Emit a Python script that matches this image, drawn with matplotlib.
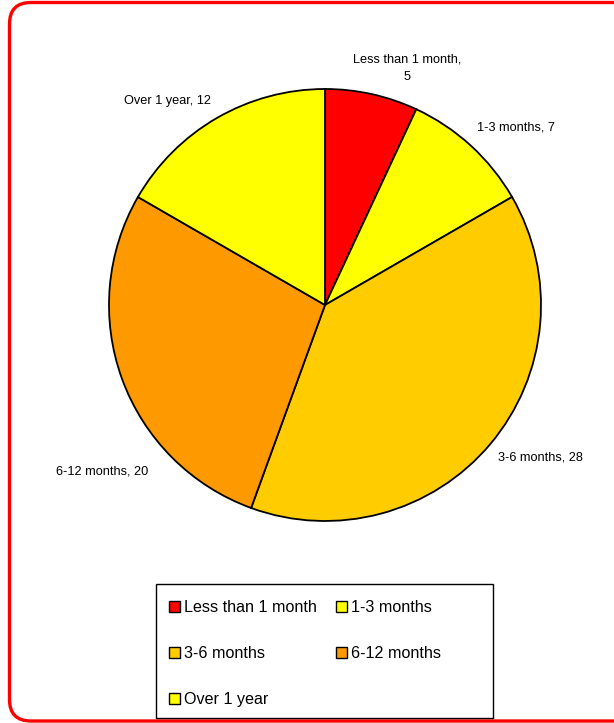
import matplotlib
matplotlib.use("Agg")
import matplotlib.pyplot as plt
from matplotlib.patches import FancyBboxPatch, Patch, Rectangle

plt.rcParams['font.family'] = ['Liberation Sans', 'DejaVu Sans']

categories = ["Less than 1 month", "1-3 months", "3-6 months", "6-12 months", "Over 1 year"]
values = [5, 7, 28, 20, 12]
colors = ["#FF0000", "#FFFF00", "#FFCC00", "#FF9900", "#FFFF00"]
point_labels = ["Less than 1 month,\n5", "1-3 months, 7", "3-6 months, 28",
                "6-12 months, 20", "Over 1 year, 12"]

W, H = 614, 723
fig = plt.figure(figsize=(W / 100, H / 100), dpi=100)
fig.patch.set_facecolor("white")

# rounded red frame around the chart area
frame = FancyBboxPatch((9.5 / W, 2 / H), (660 - 9.5) / W, (720.5 - 2) / H,
                       boxstyle="round,pad=0,rounding_size=0.035",
                       transform=fig.transFigure, facecolor="none",
                       edgecolor="#FF0000", linewidth=2.4, clip_on=False,
                       mutation_aspect=W / H)
fig.patches.append(frame)

# pixel-coordinate axes, y measured upward
ax = fig.add_axes([0, 0, 1, 1])
cx, cy, r = 325, H - 305, 216
wedges, _ = ax.pie(values, colors=colors, startangle=90, counterclock=False,
                   center=(cx, cy), radius=r, frame=True,
                   wedgeprops=dict(edgecolor="black", linewidth=1.3))
ax.set_xlim(0, W)
ax.set_ylim(0, H)
ax.set_aspect("equal")
ax.axis("off")

label_pos = [(407, 68), (516, 128), (540, 457), (102, 472), (167, 101)]
for txt, (lx, ly) in zip(point_labels, label_pos):
    ax.text(lx, H - ly, txt, ha="center", va="center", fontsize=9.2,
            linespacing=1.6, color="black")

# legend box
box = Rectangle((155.5 / W, 1 - 718 / H), (493 - 155.5) / W, (718 - 583.5) / H,
                transform=fig.transFigure, facecolor="white", edgecolor="black",
                linewidth=1.0)
fig.patches.append(box)

# legend filled row by row (matplotlib fills column by column)
order = [0, 2, 4, 1, 3]
handles = [Patch(facecolor=colors[i], edgecolor="black", linewidth=1.0) for i in order]
labels = [categories[i] for i in order]
leg = fig.legend(handles, labels, ncol=2, loc="upper left",
                 bbox_to_anchor=(155.5 / W, 1 - 586.5 / H),
                 fontsize=11.6, frameon=False,
                 handlelength=0.65, handleheight=0.65, handletextpad=0.25,
                 labelspacing=1.93, columnspacing=1.22, borderpad=0.85,
                 borderaxespad=0)

fig.savefig("out.png", dpi=100, facecolor="white")
